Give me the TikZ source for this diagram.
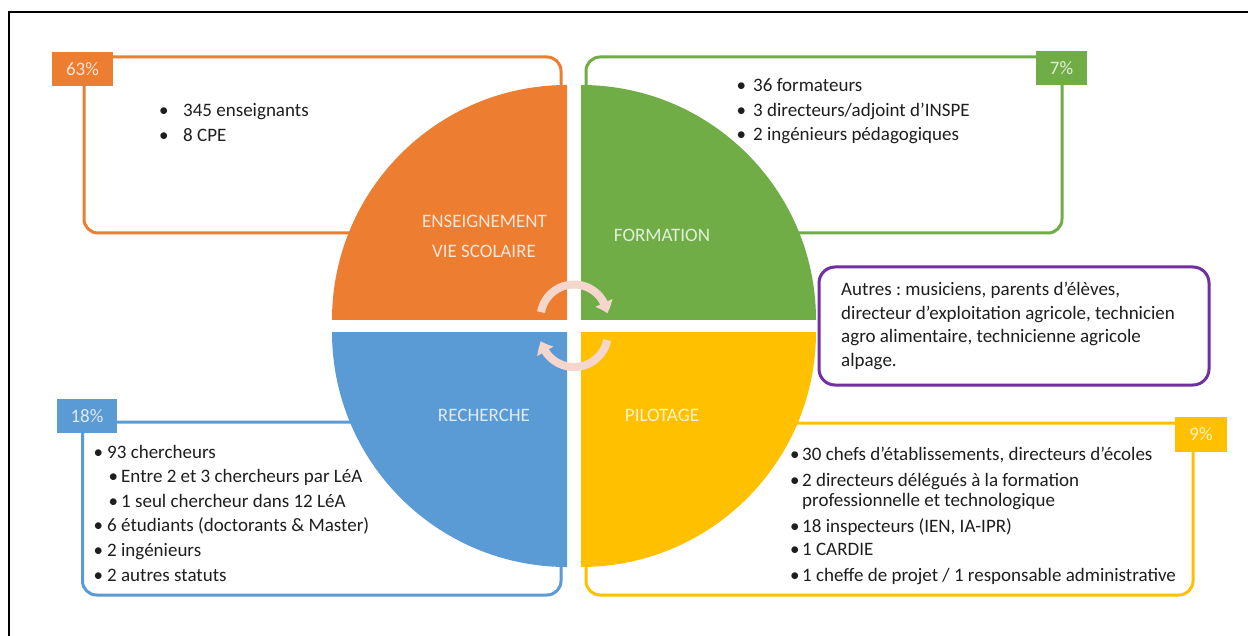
\documentclass[tikz,border=0pt]{standalone}
\usepackage{fontspec}
\setmainfont{Carlito}
\usetikzlibrary{arrows.meta,bending}
\frenchspacing
\definecolor{corange}{HTML}{ED7D31}
\definecolor{cgreen}{HTML}{70AD47}
\definecolor{cblue}{HTML}{5B9BD5}
\definecolor{cyellow}{HTML}{FFC000}
\definecolor{cpurple}{HTML}{7030A0}
\definecolor{carrow}{RGB}{244,214,204}
\definecolor{tor}{HTML}{FBE5D6}
\definecolor{tgr}{HTML}{E2F0D9}
\definecolor{tbl}{HTML}{DEEBF7}
\definecolor{tye}{HTML}{FFF2CC}
\definecolor{body}{HTML}{1E1E1E}
\newcommand\myfs{\fontsize{19bp}{24bp}\selectfont}
\newcommand\mybul[1]{\makebox[#1][l]{•}}
\begin{document}
\begin{tikzpicture}[x=1bp,y=-1bp,
  boxline/.style={line width=3bp, rounded corners=14bp},
  pct/.style={inner sep=0pt, font=\myfs, minimum height=34bp},
  txt/.style={inner sep=0pt, anchor=base west, font=\myfs, text=body},
  pielabel/.style={inner sep=0pt, anchor=base, font=\myfs},
  cyc/.style={line width=8bp, draw=carrow, -{Triangle[width=18bp,length=11bp,bend]}}]
\useasboundingbox (0,0) rectangle (1248,636);
\fill[white] (0,0) rectangle (1248,636);
% frame
\draw[line width=1.5bp] (9,636) -- (9,12) -- (1248,12);
% boxes behind the pie
\draw[boxline, draw=corange] (84,57) rectangle (561,233);
\draw[boxline, draw=cgreen] (586,57) rectangle (1062,233);
\draw[boxline, draw=cblue] (82.5,422) rectangle (561,595);
\draw[boxline, draw=cyellow] (586,423) rectangle (1193,595);
\draw[boxline, draw=cpurple, rounded corners=16bp] (819,267) rectangle (1209,385);
% pie quadrants
\fill[corange] (567,320) -- (332,320) arc[start angle=180, end angle=270, radius=235] -- cycle;
\fill[cgreen] (581,320) -- (581,85) arc[start angle=270, end angle=360, radius=235] -- cycle;
\fill[cblue] (567,332) -- (332,332) arc[start angle=180, end angle=90, radius=235] -- cycle;
\fill[cyellow] (581,332) -- (816,332) arc[start angle=0, end angle=90, radius=235] -- cycle;
% cycle arrows
\draw[cyc] (574,318) ++(190:33.5) arc[start angle=190, end angle=352, radius=33.5];
\draw[cyc] (574,333) ++(12:34) arc[start angle=12, end angle=166, radius=34];
% pie labels
\node[pielabel, text=tor] (ens1) at (484.5,227.5) {ENSEIGNEMENT};
\node[pielabel, text=tor] (ens2) at (484,258) {VIE SCOLAIRE};
\node[pielabel, text=tgr] (form) at (662,242) {FORMATION};
\node[pielabel, text=tbl] (rech) at (484,421) {RECHERCHE};
\node[pielabel, text=tye] (pilo) at (662,421) {PILOTAGE};
% percentage tags
\node[pct, fill=corange, text=tor, minimum width=61bp] (p63) at (82.5,69) {63\%};
\node[pct, fill=cgreen, text=tgr, minimum width=51bp] (p7) at (1061.5,68.5) {7\%};
\node[pct, fill=cblue, text=tbl, minimum width=60bp] (p18) at (87,416) {18\%};
\node[pct, fill=cyellow, text=tye, minimum width=52bp, minimum height=35bp] (p9) at (1201,434.5) {9\%};
% orange list
\node[txt] (o1) at (159,117) {\mybul{24bp}345 enseignants};
\node[txt] (o2) at (159,142) {\mybul{24bp}8 CPE};
% green list
\node[txt] (g1) at (736.5,92) {\mybul{16.5bp}36 formateurs};
\node[txt] (g2) at (736.5,117) {\mybul{16.5bp}3 directeurs/adjoint d’INSPE};
\node[txt] (g3) at (736.5,141) {\mybul{16.5bp}2 ingénieurs pédagogiques};
% purple text
\node[txt] (a1) at (841,296) {Autres : musiciens, parents d’élèves,};
\node[txt] (a2) at (841,319.5) {directeur d’exploitation agricole, technicien};
\node[txt] (a3) at (841,343) {agro alimentaire, technicienne agricole};
\node[txt] (a4) at (841,367) {alpage.};
% blue list
\node[txt] (b1) at (93.5,458) {\mybul{13.5bp}93 chercheurs};
\node[txt] (b2) at (108.5,482.6) {\mybul{12.5bp}Entre 2 et 3 chercheurs par LéA};
\node[txt] (b3) at (108.5,507.2) {\mybul{12.5bp}1 seul chercheur dans 12 LéA};
\node[txt] (b4) at (93.5,531.8) {\mybul{13.5bp}6 étudiants (doctorants \& Master)};
\node[txt] (b5) at (93.5,556.4) {\mybul{13.5bp}2 ingénieurs};
\node[txt] (b6) at (93.5,581) {\mybul{13.5bp}2 autres statuts};
% yellow list
\node[txt] (y1) at (790,460) {\mybul{12bp}30 chefs d’établissements, directeurs d’écoles};
\node[txt] (y2) at (790,486) {\mybul{12bp}2 directeurs délégués à la formation};
\node[txt] (y2b) at (802,506) {professionnelle et technologique};
\node[txt] (y3) at (790,532) {\mybul{12bp}18 inspecteurs (IEN, IA-IPR)};
\node[txt] (y4) at (790,555) {\mybul{12bp}1 CARDIE};
\node[txt] (y5) at (790,581) {\mybul{12bp}1 cheffe de projet / 1 responsable administrative};
\end{tikzpicture}
\end{document}
